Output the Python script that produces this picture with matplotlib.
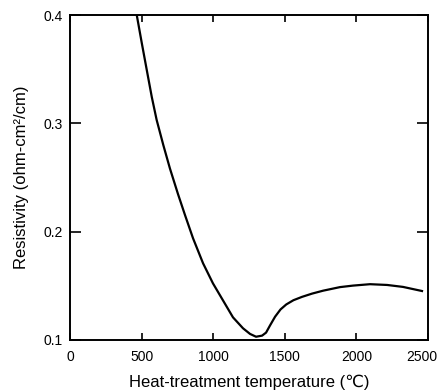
import matplotlib
matplotlib.use("Agg")
import matplotlib.pyplot as plt
from matplotlib.transforms import ScaledTranslation

plt.rcParams["font.family"] = ["Liberation Sans", "DejaVu Sans"]

# Resistivity vs heat-treatment temperature
temp_c = [466, 501, 536, 571, 605, 652, 698, 754, 803, 859, 929, 998, 1068,
          1138, 1208, 1257, 1299, 1341, 1369, 1397, 1432, 1470, 1510, 1560,
          1620, 1690, 1767, 1885, 1976, 2095, 2214, 2325, 2458]
resistivity = [0.400, 0.3742, 0.3492, 0.3243, 0.3031, 0.2797, 0.2582, 0.2347,
               0.2153, 0.1939, 0.1708, 0.1523, 0.1366, 0.1209, 0.1108, 0.1056,
               0.1030, 0.1040, 0.1068, 0.1135, 0.1215, 0.1282, 0.1328, 0.1367,
               0.1398, 0.1428, 0.1455, 0.1488, 0.1502, 0.1515, 0.1508, 0.1490,
               0.1452]

x_ticks = [0, 500, 1000, 1500, 2000, 2500]
y_ticks = [0.1, 0.2, 0.3, 0.4]
y_tick_labels = ["0.1", "0.2", "0.3", "0.4"]

fig = plt.figure(figsize=(4.39, 3.92), dpi=100)
ax = fig.add_axes([0.1595, 0.1327, 0.975 - 0.1595, 0.9617 - 0.1327])

ax.plot(temp_c, resistivity, color="black", linewidth=1.6,
        solid_joinstyle="round")

ax.set_xlim(0, 2500)
ax.set_ylim(0.1, 0.4)
ax.set_xticks(x_ticks)
ax.set_yticks(y_ticks)
ax.set_yticklabels(y_tick_labels)
ax.tick_params(axis="both", direction="in", top=True, right=True,
               labelsize=10, width=1.2)
ax.tick_params(axis="y", length=8, pad=5.5)
ax.tick_params(axis="x", length=5, pad=7)
for s in ax.spines.values():
    s.set_linewidth(1.4)

# last x label sits a little left of its tick in the original
lbl = ax.get_xticklabels()[-1]
lbl.set_transform(lbl.get_transform() +
                  ScaledTranslation(-6 / 100, 0, fig.dpi_scale_trans))

ax.set_xlabel("Heat-treatment temperature (\u2103)", fontsize=12, labelpad=8)
ax.set_ylabel("Resistivity (ohm-cm\u00b2/cm)", fontsize=12, labelpad=10)

fig.savefig("out.png", dpi=100)
